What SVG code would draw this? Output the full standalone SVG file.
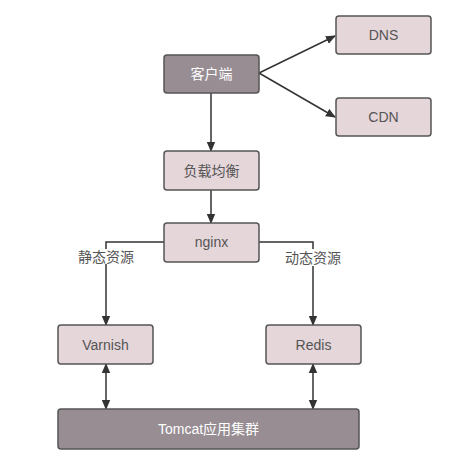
<svg xmlns="http://www.w3.org/2000/svg" width="467" height="467" viewBox="0 0 467 467">
<defs>
<marker id="ah" markerWidth="10" markerHeight="10" refX="9" refY="5" orient="auto-start-reverse" markerUnits="userSpaceOnUse">
<path d="M0,0.8 L10,5 L0,9.2 Z" fill="#333"/>
</marker>
<style>
.lt{fill:#e5d6da;stroke:#555;stroke-width:1.5}
.dk{fill:#978d93;stroke:#555;stroke-width:1.5}
.t{font-family:"Liberation Sans","Noto Sans CJK SC",sans-serif;font-size:14px;text-anchor:middle;dominant-baseline:central}
.td{fill:#555}
.tw{fill:#fff}
.c{stroke:#333;stroke-width:1.5;fill:none}
.lbl{font-family:"Liberation Sans","Noto Sans CJK SC",sans-serif;font-size:14px;text-anchor:middle;dominant-baseline:central;fill:#555}
</style>
</defs>
<rect width="467" height="467" fill="#fff"/>
<g id="connectors">
<line class="c" x1="259" y1="73" x2="335" y2="36" marker-end="url(#ah)"/>
<line class="c" x1="259" y1="73" x2="335" y2="117" marker-end="url(#ah)"/>
<line class="c" x1="211" y1="93" x2="211" y2="151" marker-end="url(#ah)"/>
<line class="c" x1="211" y1="190" x2="211" y2="223" marker-end="url(#ah)"/>
<polyline class="c" points="164,242 106,242 106,249"/>
<polyline class="c" points="106,264 106,325" marker-end="url(#ah)"/>
<polyline class="c" points="259,242 313,242 313,249"/>
<polyline class="c" points="313,266 313,325" marker-end="url(#ah)"/>
<line class="c" x1="106" y1="364" x2="106" y2="409" marker-start="url(#ah)" marker-end="url(#ah)"/>
<line class="c" x1="313" y1="364" x2="313" y2="409" marker-start="url(#ah)" marker-end="url(#ah)"/>
<text class="lbl" x="106" y="257">静态资源</text>
<text class="lbl" x="313" y="258">动态资源</text>
</g>
<g id="client"><rect class="dk" x="164" y="55" width="95" height="38" rx="3"/><text class="t tw" x="211.5" y="74">客户端</text></g>
<g id="dns"><rect class="lt" x="336" y="16" width="95" height="38" rx="3"/><text class="t td" x="383.5" y="35">DNS</text></g>
<g id="cdn"><rect class="lt" x="336" y="98" width="95" height="38" rx="3"/><text class="t td" x="383.5" y="117">CDN</text></g>
<g id="lb"><rect class="lt" x="164" y="151" width="95" height="39" rx="3"/><text class="t td" x="211.5" y="170.5">负载均衡</text></g>
<g id="nginx"><rect class="lt" x="164" y="223" width="95" height="39" rx="3"/><text class="t td" x="211.5" y="242">nginx</text></g>
<g id="varnish"><rect class="lt" x="58" y="325" width="95" height="39" rx="3"/><text class="t td" x="105.5" y="344.5">Varnish</text></g>
<g id="redis"><rect class="lt" x="266" y="325" width="95" height="39" rx="3"/><text class="t td" x="313.5" y="344.5">Redis</text></g>
<g id="tomcat"><rect class="dk" x="58" y="409" width="301" height="40" rx="3"/><text class="t tw" x="208.5" y="429">Tomcat应用集群</text></g>
</svg>
